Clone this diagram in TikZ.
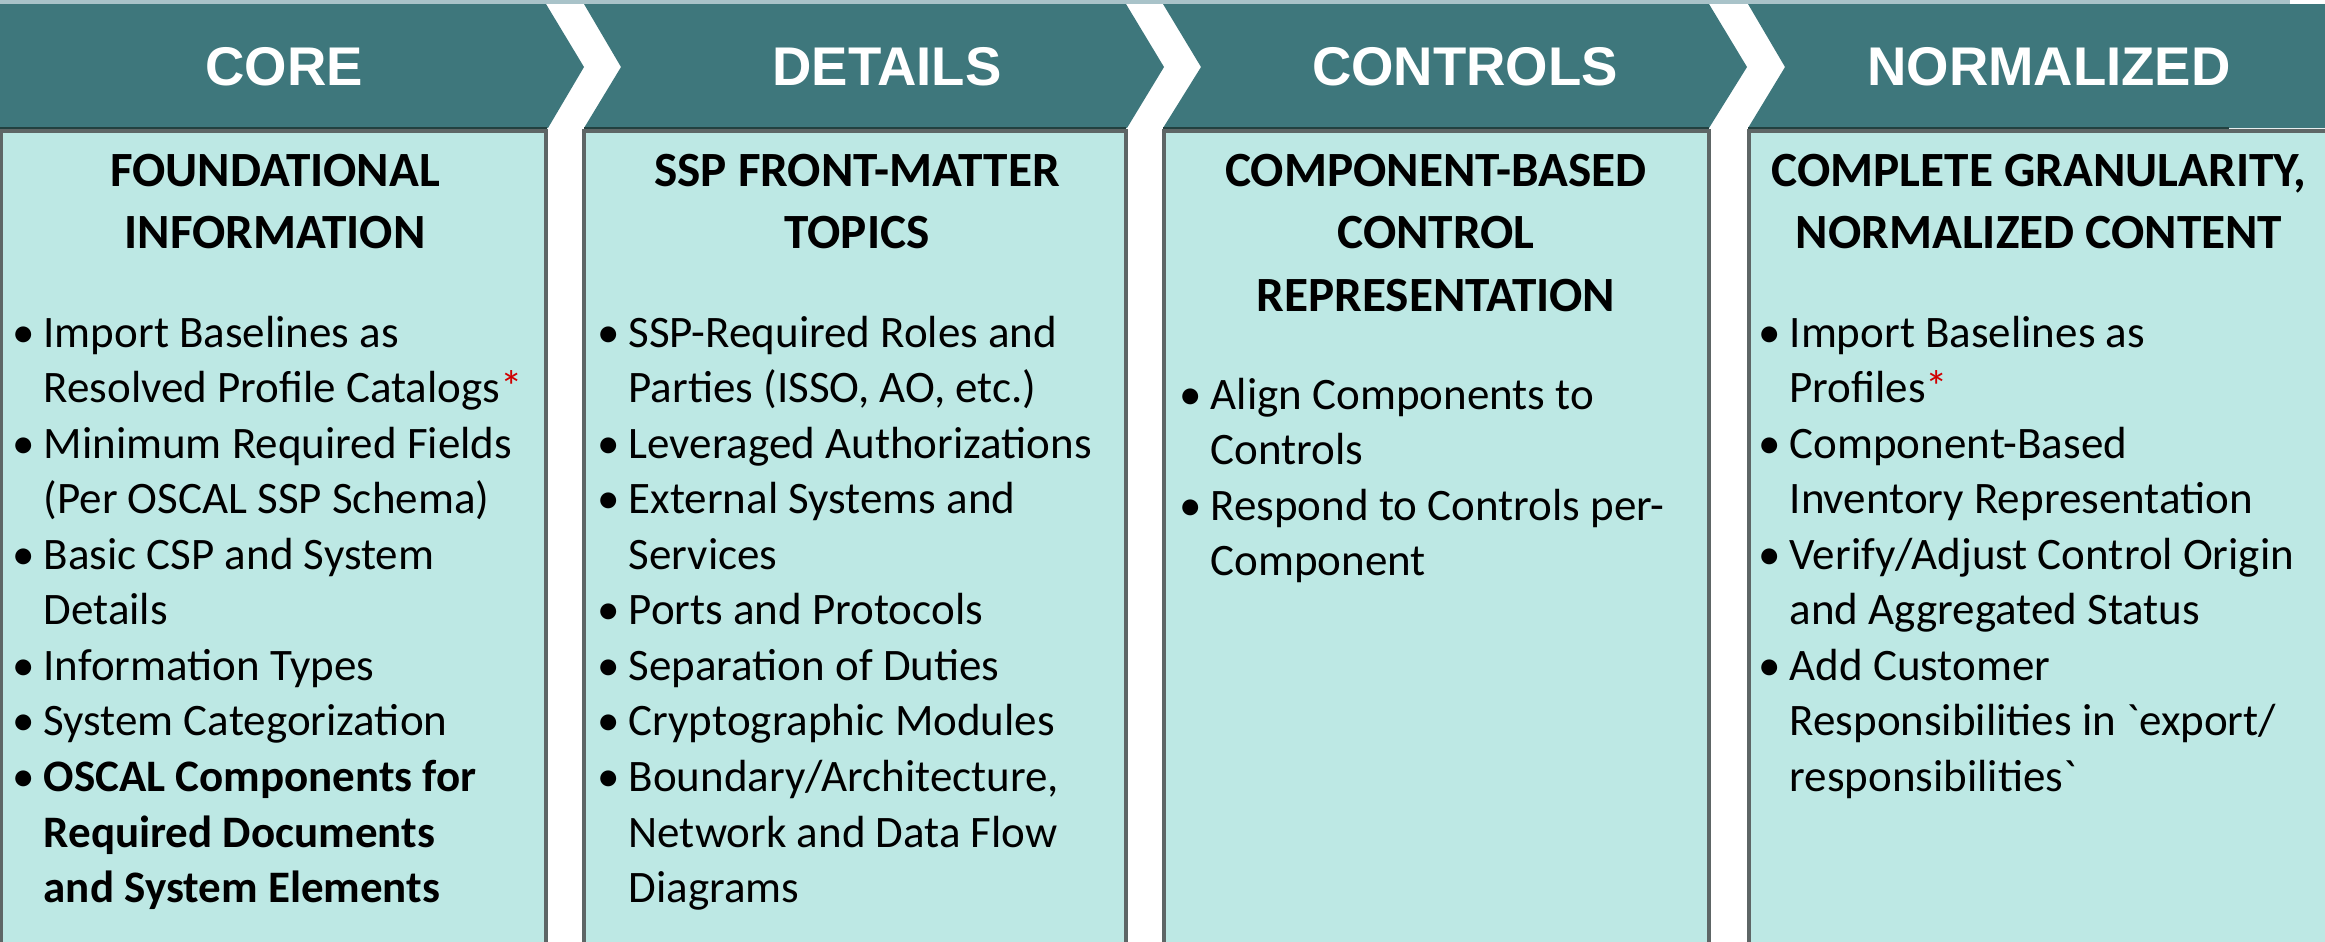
\documentclass[tikz,border=0pt]{standalone}
\usepackage{fontspec}
\setmainfont{Carlito}
\newfontfamily\headfont{Liberation Sans}
\definecolor{teal1}{HTML}{3E777C}
\definecolor{mint1}{HTML}{BDE8E4}
\definecolor{frame1}{HTML}{5E6666}
\definecolor{rule1}{HTML}{22403F}
\definecolor{strip1}{HTML}{A9C3C9}
\definecolor{star1}{HTML}{D00000}
\newcommand{\bul}{\makebox[8.8pt][l]{\textbullet}}
\newcommand{\ind}{\hspace*{8.8pt}}
\newcommand{\redstar}{\textcolor{star1}{*}}

\begin{document}
\begin{tikzpicture}[x=0.01cm,y=-0.01cm,
    phase/.style={text=white,font=\headfont\bfseries\fontsize{15.5}{18}\selectfont,inner sep=0},
    title/.style={anchor=base,inner sep=0,font=\bfseries\fontsize{14}{17.8}\selectfont},
    list/.style={anchor=base west,inner sep=0,font=\fontsize{12.8}{15.8}\selectfont}]
  \useasboundingbox (0,0) rectangle (2325,941);
  \fill[strip1] (0,0) rectangle (2290,4);
  % chevrons
  \fill[teal1] (0,4) -- (546,4) -- (584,67) -- (548,128) -- (0,128) -- cycle;
  \fill[teal1] (584,4) -- (1126,4) -- (1164,67) -- (1127,128) -- (584,128) -- (621,67) -- cycle;
  \fill[teal1] (1163,4) -- (1709,4) -- (1747,67) -- (1709,128) -- (1163,128) -- (1201,67) -- cycle;
  \fill[teal1] (1748,4) -- (2325,4) -- (2325,128) -- (1748,128) -- (1785,67) -- cycle;
  \fill[rule1] (0,127) rectangle (547,131);
  \fill[rule1] (584,127) rectangle (1126,131);
  \fill[rule1] (1163,127) rectangle (1709,131);
  \fill[rule1] (1748,127) rectangle (2229,131);
  % boxes
  \draw[frame1,line width=1.2pt,fill=mint1] (1,131) rectangle (546,945);
  \draw[frame1,line width=1.2pt,fill=mint1] (584,131) rectangle (1126,945);
  \draw[frame1,line width=1.2pt,fill=mint1] (1164,131) rectangle (1709,945);
  \draw[frame1,line width=1.2pt,fill=mint1] (1749,131) rectangle (2330,945);
  \node[phase] (core) at (284,67) {CORE};
  \node[phase] (details) at (887,67) {DETAILS};
  \node[phase] (controls) at (1465,67) {CONTROLS};
  \node[phase] (normalized) at (2049,67) {NORMALIZED};
  \node[title] (coretitle) at (275,186) {\begin{tabular}[t]{@{}c@{}}FOUNDATIONAL\\INFORMATION\end{tabular}};
  \node[title] (detailstitle) at (857,186) {\begin{tabular}[t]{@{}c@{}}SSP FRONT-MATTER\\TOPICS\end{tabular}};
  \node[title] (controlstitle) at (1436,186) {\begin{tabular}[t]{@{}c@{}}COMPONENT-BASED\\CONTROL\\REPRESENTATION\end{tabular}};
  \node[title] (normalizedtitle) at (2039,186) {\begin{tabular}[t]{@{}c@{}}COMPLETE GRANULARITY,\\NORMALIZED CONTENT\end{tabular}};
  \node[list] (corelist) at (12,347) {\begin{tabular}[t]{@{}l@{}}
    \bul Import Baselines as\\
    \ind Resolved Profile Catalogs\redstar\\
    \bul Minimum Required Fields\\
    \ind (Per OSCAL SSP Schema)\\
    \bul Basic CSP and System\\
    \ind Details\\
    \bul Information Types\\
    \bul System Categorization\\
    \bul \textbf{OSCAL Components for}\\
    \ind \textbf{Required Documents}\\
    \ind \textbf{and System Elements}
  \end{tabular}};
  \node[list] (detailslist) at (597,347) {\begin{tabular}[t]{@{}l@{}}
    \bul SSP-Required Roles and\\
    \ind Parties (ISSO, AO, etc.)\\
    \bul Leveraged Authorizations\\
    \bul External Systems and\\
    \ind Services\\
    \bul Ports and Protocols\\
    \bul Separation of Duties\\
    \bul Cryptographic Modules\\
    \bul Boundary/Architecture,\\
    \ind Network and Data Flow\\
    \ind Diagrams
  \end{tabular}};
  \node[list] (controlslist) at (1179,409) {\begin{tabular}[t]{@{}l@{}}
    \bul Align Components to\\
    \ind Controls\\
    \bul Respond to Controls per-\\
    \ind Component
  \end{tabular}};
  \node[list] (normalizedlist) at (1758,347) {\begin{tabular}[t]{@{}l@{}}
    \bul Import Baselines as\\
    \ind Profiles\redstar\\
    \bul Component-Based\\
    \ind Inventory Representation\\
    \bul Verify/Adjust Control Origin\\
    \ind and Aggregated Status\\
    \bul Add Customer\\
    \ind Responsibilities in \textasciigrave export/\\
    \ind responsibilities\textasciigrave
  \end{tabular}};
\end{tikzpicture}
\end{document}
